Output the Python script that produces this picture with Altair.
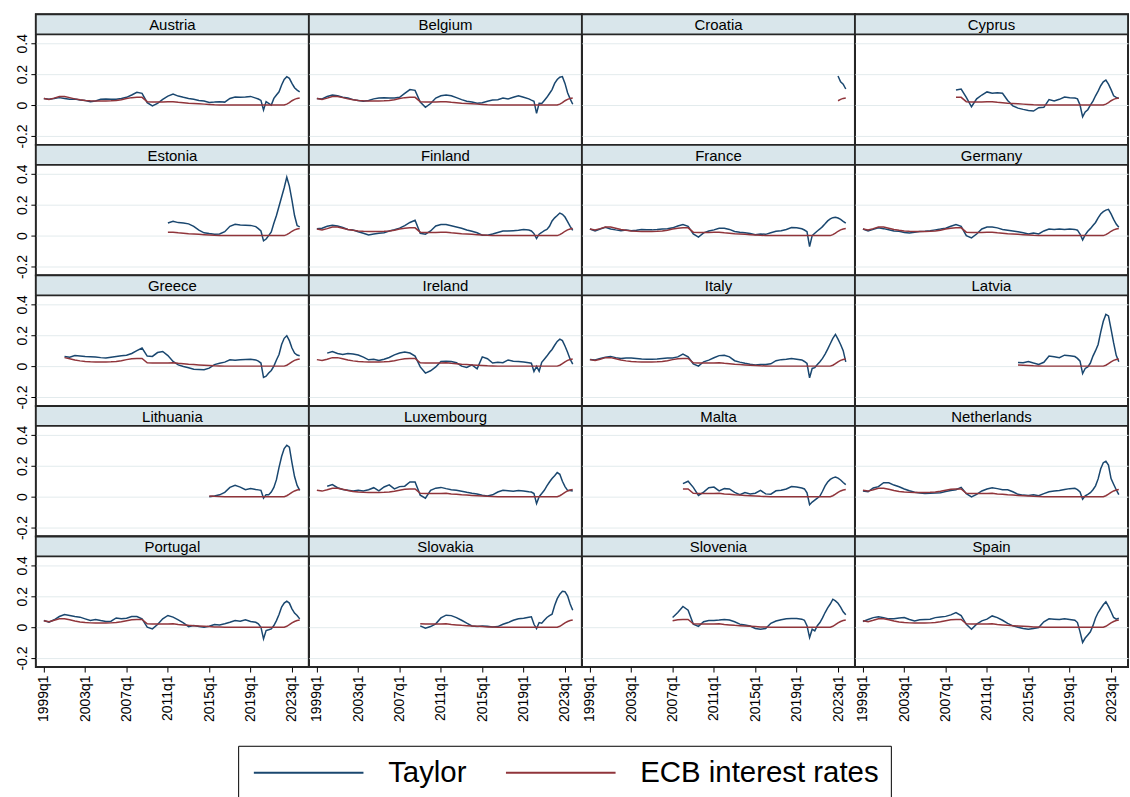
import altair as alt
import pandas as pd

# Sampling dates (year + fraction): half-yearly to 2019h1, then quarterly to 2023q4
HALF_YEARS = [1999.0 + 0.5 * i for i in range(42)]
QUARTERS = [2019.75 + 0.25 * i for i in range(17)]
DATES = HALF_YEARS + QUARTERS

# ECB policy rate (decimal), common to all members
ECB_RATE = [
    .042, .036, .045, .055, .055, .048, .040, .034, .030, .028,
    .027, .027, .027, .028, .030, .035, .042, .048, .050, .050,
    .022, .020, .020, .020, .021, .022, .018, .015, .012, .010,
    .008, .006, .004, .002, .001, .000, .000, .000, .000, .000,
    .000, .000,
    .000, .000, .000, .000, .000, .000, .000, .000, .000, .000,
    .000, .006, .016, .028, .037, .043, .046,
]

# Euro adoption (first date with an ECB rate shown)
ECB_START = {
    "Croatia": 2023.0, "Cyprus": 2008.0, "Estonia": 2011.0, "Greece": 2001.0,
    "Latvia": 2014.0, "Lithuania": 2015.0, "Malta": 2008.0, "Slovakia": 2009.0,
    "Slovenia": 2007.0,
}

# Taylor-rule implied rate per country: (first date, values)
TAYLOR = {
    "Austria": (1999.0, [
        .043, .037, .043, .048, .043, .037, .039, .032, .030, .022,
        .026, .037, .039, .037, .037, .043, .050, .065, .082, .076,
        .015, -.006, .011, .037, .058, .071, .058, .050, .043, .037,
        .030, .026, .017, .019, .022, .019, .043, .052, .050, .052,
        .056, .045,
        .039, .030, -.032, .022, .011, .000, .043, .065, .086, .130,
        .166, .184, .173, .140, .112, .097, .086]),
    "Belgium": (1999.0, [
        .043, .040, .055, .065, .060, .050, .045, .035, .030, .025,
        .030, .040, .045, .047, .045, .045, .050, .075, .100, .095,
        .020, -.015, .010, .045, .060, .065, .060, .048, .035, .025,
        .020, .012, .015, .025, .032, .035, .045, .040, .050, .060,
        .050, .040,
        .032, .025, -.054, .011, .010, .030, .050, .075, .100, .140,
        .165, .180, .184, .140, .080, .040, .005]),
    "Croatia": (2023.0, [.188, .150, .135, .104]),
    "Cyprus": (2008.0, [
        .097, .104, .050, -.011, .040, .065, .085, .076, .080, .076,
        .030, -.005, -.020, -.028, -.035, -.039, -.017, -.015, .035, .026,
        .037, .052, .048, .045,
        .040, .000, -.076, -.045, -.030, .000, .025, .060, .090, .125,
        .150, .162, .135, .100, .060, .050, .043]),
    "Estonia": (2011.0, [
        .082, .092, .084, .082, .076, .060, .035, .018, .013, .009,
        .010, .025, .060, .073, .068, .067, .066, .058,
        .045, .030, -.034, -.022, .000, .024, .080, .130, .190, .250,
        .310, .378, .320, .230, .130, .065, .056]),
    "Finland": (1999.0, [
        .045, .048, .060, .067, .062, .052, .040, .036, .025, .015,
        .004, .010, .015, .018, .030, .038, .048, .065, .085, .099,
        .015, .009, .030, .062, .072, .072, .064, .056, .048, .036,
        .028, .018, .002, .002, .010, .020, .030, .030, .032, .034,
        .039, .036,
        .030, .013, -.019, .009, .020, .032, .040, .060, .095, .115,
        .130, .146, .138, .120, .090, .060, .034]),
    "France": (1999.0, [
        .043, .030, .043, .054, .043, .037, .032, .036, .032, .035,
        .040, .038, .037, .039, .042, .045, .050, .062, .071, .060,
        .011, -.010, .018, .030, .037, .048, .048, .040, .027, .022,
        .018, .014, .006, .011, .008, .018, .028, .032, .040, .052,
        .050, .044,
        .036, .025, -.071, .000, .015, .030, .043, .058, .076, .095,
        .108, .116, .119, .114, .105, .092, .080]),
    "Germany": (1999.0, [
        .043, .030, .040, .050, .045, .038, .030, .028, .020, .017,
        .022, .027, .028, .032, .037, .042, .048, .060, .071, .060,
        .000, -.015, .010, .043, .055, .055, .050, .040, .035, .030,
        .025, .018, .010, .016, .011, .030, .042, .040, .043, .040,
        .042, .040,
        .035, .010, -.028, .005, .028, .045, .065, .085, .115, .140,
        .155, .165, .170, .140, .105, .075, .054]),
    "Greece": (2001.0, [
        .063, .058, .068, .066, .063, .061, .059, .055, .052, .058,
        .063, .067, .070, .082, .100, .117, .065, .063, .088, .095,
        .068, .030, .008, -.002, -.010, -.020, -.022, -.024, -.013, .010,
        .018, .026, .041, .038, .041, .043, .045, .040,
        .032, .020, -.073, -.065, -.045, -.028, .000, .040, .075, .140,
        .180, .197, .165, .117, .085, .072, .067]),
    "Ireland": (2000.0, [
        .084, .095, .082, .076, .082, .078, .072, .058, .041, .045,
        .037, .045, .056, .073, .085, .092, .085, .065, -.005, -.045,
        -.030, -.005, .030, .032, .030, .022, .000, -.009, .008, -.017,
        .060, .048, .020, .025, .022, .040, .032, .030, .027, .022,
        .019, -.035, -.002, -.033, .025, .045, .065, .088, .108, .135,
        .160, .175, .165, .130, .090, .045, .013]),
    "Italy": (1999.0, [
        .043, .040, .050, .058, .063, .055, .050, .052, .052, .050,
        .046, .044, .045, .046, .050, .052, .053, .060, .078, .060,
        .015, .000, .028, .039, .054, .068, .070, .060, .035, .026,
        .018, .012, .008, .011, .010, .015, .035, .042, .045, .050,
        .045, .040,
        .030, .017, -.076, -.015, -.010, .010, .028, .050, .078, .110,
        .145, .180, .205, .175, .140, .100, .028]),
    "Latvia": (2014.0, [
        .024, .022, .030, .020, .011, .025, .065, .060, .054, .071,
        .067, .062,
        .050, .032, -.048, -.015, -.005, .020, .065, .100, .140, .220,
        .290, .335, .325, .240, .150, .070, .028]),
    "Lithuania": (2015.0, [
        .000, .004, .012, .028, .060, .073, .062, .045, .052, .046,
        .044, .041, -.009, .013, .013, .030, .060, .110, .190, .260,
        .311, .333, .320, .220, .130, .073, .041]),
    "Luxembourg": (2000.0, [
        .067, .078, .058, .046, .042, .037, .041, .037, .045, .058,
        .037, .063, .076, .050, .065, .068, .095, .095, .010, -.010,
        .041, .055, .060, .052, .045, .042, .035, .028, .022, .017,
        .009, .005, .012, .030, .041, .038, .035, .040, .037, .032,
        .030, .020, -.045, .000, .020, .041, .070, .095, .117, .135,
        .156, .145, .100, .065, .041, .040, .037]),
    "Malta": (2008.0, [
        .084, .100, .060, .008, .030, .058, .062, .037, .052, .050,
        .028, .013, .026, .018, .022, .041, .018, .016, .038, .041,
        .050, .066, .062, .056,
        .050, .025, -.052, -.035, -.022, -.010, .004, .035, .070, .095,
        .112, .122, .127, .120, .108, .092, .078]),
    "Netherlands": (1999.0, [
        .037, .032, .056, .065, .090, .090, .075, .064, .050, .038,
        .028, .023, .020, .022, .024, .026, .034, .040, .045, .060,
        .019, -.002, .015, .037, .050, .057, .052, .045, .045, .032,
        .015, .010, .008, .012, .006, .020, .032, .037, .040, .046,
        .052, .054,
        .045, .030, -.017, .005, .015, .026, .045, .070, .115, .181,
        .220, .229, .205, .117, .080, .045, .013]),
    "Portugal": (1999.0, [
        .043, .032, .048, .069, .082, .076, .069, .065, .054, .043,
        .050, .043, .037, .039, .060, .054, .058, .069, .069, .054,
        .000, -.011, .017, .054, .076, .065, .048, .028, .004, .011,
        .004, .000, .006, .017, .015, .022, .032, .043, .039, .048,
        .037, .032,
        .022, .000, -.076, -.022, -.017, -.011, .011, .043, .082, .130,
        .156, .168, .156, .119, .091, .076, .054]),
    "Slovakia": (2009.0, [
        .009, -.006, .004, .022, .060, .078, .075, .062, .045, .026,
        .008, .004, .008, .006, .002, .004, .019, .030, .045, .055,
        .058, .064,
        .067, .019, -.009, .030, .026, .045, .063, .075, .084, .140,
        .185, .214, .232, .230, .203, .150, .110]),
    "Slovenia": (2007.0, [
        .063, .095, .134, .110, .020, .005, .035, .043, .044, .046,
        .050, .046, .035, .020, .014, .008, -.008, -.013, -.008, .025,
        .040, .048, .055, .056, .056, .052,
        .045, .010, -.067, -.013, -.024, .010, .030, .060, .095, .125,
        .150, .181, .170, .155, .130, .100, .080]),
    "Spain": (1999.0, [
        .037, .050, .062, .068, .062, .054, .055, .060, .063, .050,
        .040, .048, .050, .052, .062, .066, .070, .080, .095, .075,
        .019, -.013, .020, .041, .052, .073, .062, .045, .025, .009,
        .000, -.008, -.013, -.008, -.002, .035, .054, .052, .050, .055,
        .050, .045,
        .030, -.030, -.099, -.070, -.050, -.030, .010, .060, .095, .120,
        .145, .164, .135, .100, .063, .052, .058]),
}

COUNTRIES = [
    "Austria", "Belgium", "Croatia", "Cyprus",
    "Estonia", "Finland", "France", "Germany",
    "Greece", "Ireland", "Italy", "Latvia",
    "Lithuania", "Luxembourg", "Malta", "Netherlands",
    "Portugal", "Slovakia", "Slovenia", "Spain",
]
N_COLS = 4

SERIES = ["Taylor", "ECB interest rates"]
SERIES_COLORS = ["#1a476f", "#90353b"]
X_TICKS = [1999, 2003, 2007, 2011, 2015, 2019, 2023]
Y_TICKS = [-0.2, 0.0, 0.2, 0.4]
X_DOMAIN = [1998.23, 2024.64]
# upper end leaves room for the title strip above the plotting area
Y_DOMAIN = [-0.258, 0.587]

FONT = "Liberation Sans"
PANEL_W = 274
PANEL_H = 131
STRIP_H = 20
STRIP_FILL = "#d9e6eb"
BORDER = "#262626"


def panel_frame(country):
    records = []
    t_start, t_vals = TAYLOR[country]
    t_dates = [d for d in DATES if d >= t_start]
    assert len(t_dates) == len(t_vals), country
    for d, v in zip(t_dates, t_vals):
        records.append({"t": d, "rate": v, "series": "Taylor"})
    e_start = ECB_START.get(country, 1999.0)
    i0 = DATES.index(e_start)
    for d, v in zip(DATES[i0:], ECB_RATE[i0:]):
        records.append({"t": d, "rate": v, "series": "ECB interest rates"})
    return pd.DataFrame(records)


# Long flat line as legend key: path runs from the symbol's left edge rightwards
legend = alt.Legend(
    title=None, orient="none", legendX=203, legendY=734,
    direction="horizontal", symbolType="M-1,0H9", symbolSize=484,
    symbolStrokeWidth=2, symbolOffset=0, labelFontSize=29.5, labelFont=FONT,
    labelColor="black", strokeColor="black", padding=12,
    columnPadding=34, labelOffset=109, labelLimit=0,
)

y_label_expr = ("datum.value == 0 ? '0' : (datum.value < 0 ? '-' + "
                "format(-datum.value, '.1f') : format(datum.value, '.1f'))")


def make_panel(idx, country):
    col = idx % N_COLS
    row = idx // N_COLS
    last_row = row == (len(COUNTRIES) - 1) // N_COLS

    label_data = alt.Data(values=[{"country": country}])
    strip = alt.Chart(label_data).mark_rect(
        fill=STRIP_FILL, stroke=BORDER, strokeWidth=1.8
    ).encode(
        x=alt.value(0), x2=alt.value("width"),
        y=alt.value(0), y2=alt.value(STRIP_H),
    )
    strip_text = alt.Chart(label_data).mark_text(
        font=FONT, fontSize=15, color="black", baseline="middle"
    ).encode(
        x=alt.value(PANEL_W / 2), y=alt.value(STRIP_H / 2 + 1),
        text="country:N",
    )

    if col == 0:
        y_axis = alt.Axis(
            values=Y_TICKS, labelExpr=y_label_expr, labelAngle=270,
            labelAlign="center", labelBaseline="alphabetic", labelPadding=4,
            tickSize=5, domain=False, grid=True, title=None,
        )
    else:
        y_axis = alt.Axis(
            values=Y_TICKS, labels=False, ticks=False, domain=False,
            grid=True, title=None,
        )

    if last_row:
        x_axis = alt.Axis(
            values=X_TICKS, labelExpr="datum.value + 'q1'", labelAngle=270,
            labelAlign="right", labelBaseline="middle", labelPadding=3,
            tickSize=5, domain=False, grid=False, title=None,
            labelOverlap=False, labelFlush=False,
        )
    else:
        x_axis = None

    lines = alt.Chart(panel_frame(country)).mark_line(
        strokeWidth=1.5, clip=True
    ).encode(
        x=alt.X("t:Q", axis=x_axis,
                scale=alt.Scale(domain=X_DOMAIN, nice=False, zero=False)),
        y=alt.Y("rate:Q", axis=y_axis,
                scale=alt.Scale(domain=Y_DOMAIN, nice=False, zero=False)),
        color=alt.Color("series:N", legend=legend,
                        scale=alt.Scale(domain=SERIES, range=SERIES_COLORS)),
    )

    return alt.layer(lines, strip, strip_text).properties(
        width=PANEL_W, height=PANEL_H
    )


panels = [make_panel(i, c) for i, c in enumerate(COUNTRIES)]

# Panels tile edge to edge: layout uses the plot areas only
chart = alt.concat(
    *panels, columns=N_COLS, spacing=0, bounds="flush"
).properties(
    padding={"left": 14, "top": 11, "right": 0, "bottom": 0},
    background="white",
).configure_view(
    stroke=BORDER, strokeWidth=2,
).configure_axis(
    labelFont=FONT, labelFontSize=14, labelColor="black",
    tickColor="black", gridColor="#e3ebed", gridWidth=1,
)

chart.save("out.html", embed_options={"renderer": "svg", "actions": False})
